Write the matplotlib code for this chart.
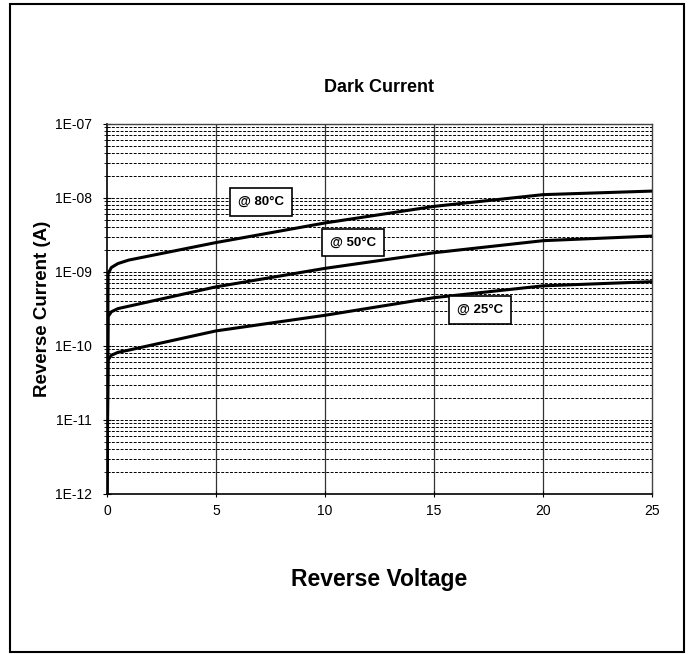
import matplotlib
matplotlib.use("Agg")
import matplotlib.pyplot as plt
from matplotlib.patches import Rectangle
from matplotlib.ticker import FixedLocator, FixedFormatter, NullFormatter
import numpy as np

plt.rcParams['font.family'] = ['Liberation Sans', 'DejaVu Sans']

# ---- data ----
voltage = [0, 0.05, 0.2, 0.5, 1, 5, 10, 15, 20, 25]
i_80c = [1e-12, 9.5e-10, 1.15e-9, 1.3e-9, 1.45e-9, 2.5e-9, 4.6e-9, 7.7e-9, 1.11e-8, 1.24e-8]
i_50c = [1e-12, 2.5e-10, 2.9e-10, 3.2e-10, 3.45e-10, 6.3e-10, 1.12e-9, 1.82e-9, 2.65e-9, 3.06e-9]
i_25c = [1e-12, 6.5e-11, 7.5e-11, 8.2e-11, 8.8e-11, 1.6e-10, 2.6e-10, 4.5e-10, 6.5e-10, 7.4e-10]

labels = ["@ 80\u00b0C", "@ 50\u00b0C", "@ 25\u00b0C"]
label_v = [7.06, 11.3, 17.1]
label_i = [8.8e-9, 2.5e-9, 3.1e-10]

y_ticks = [1e-12, 1e-11, 1e-10, 1e-9, 1e-8, 1e-7]
y_ticklabels = ["1E-12", "1E-11", "1E-10", "1E-09", "1E-08", "1E-07"]
x_ticks = [0, 5, 10, 15, 20, 25]
x_ticklabels = ["0", "5", "10", "15", "20", "25"]

title = "Dark Current"
xlabel = "Reverse Voltage"
ylabel = "Reverse Current (A)"

# ---- figure ----
W, H = 690, 654
fig = plt.figure(figsize=(W / 100, H / 100), dpi=100)
fig.patch.set_facecolor("white")

left, right, top, bottom = 107, 652, 124, 494
ax = fig.add_axes([left / W, 1 - bottom / H, (right - left) / W, (bottom - top) / H])

ax.set_yscale("log")
ax.set_xlim(0, 25)
ax.set_ylim(1e-12, 1e-7)

# grid lines
minor_vals = [m * 10.0 ** e for e in range(-12, -7) for m in range(2, 10)]
for v in minor_vals + y_ticks[1:-1]:
    ax.axhline(v, color="black", lw=0.7, ls=(0, (3, 1.5)), zorder=1)
for v in x_ticks[1:-1]:
    ax.axvline(v, color="#333333", lw=0.9, zorder=1)

for xs, ys in [(voltage, i_80c), (voltage, i_50c), (voltage, i_25c)]:
    ax.plot(xs, ys, color="black", lw=2.2, zorder=3, solid_joinstyle="round")

for txt, vx, vy in zip(labels, label_v, label_i):
    ax.text(vx, vy, txt, ha="center", va="center", fontsize=9.5, fontweight="bold",
            zorder=5,
            bbox=dict(boxstyle="square,pad=0.6", facecolor="white", edgecolor="black", lw=1.2))

ax.yaxis.set_major_locator(FixedLocator(y_ticks))
ax.yaxis.set_major_formatter(FixedFormatter(y_ticklabels))
ax.yaxis.set_minor_locator(FixedLocator(minor_vals))
ax.yaxis.set_minor_formatter(NullFormatter())
ax.xaxis.set_major_locator(FixedLocator(x_ticks))
ax.xaxis.set_major_formatter(FixedFormatter(x_ticklabels))

ax.tick_params(axis="y", which="major", direction="inout", length=6, width=0.8, labelsize=10, pad=8)
ax.tick_params(axis="y", which="minor", direction="inout", length=4, width=0.6)
ax.tick_params(axis="x", which="major", direction="inout", length=4, width=0.8, labelsize=10, pad=5)

for s in ["left", "bottom"]:
    ax.spines[s].set_linewidth(1.2)
for s in ["top", "right"]:
    ax.spines[s].set_linewidth(1.0)
    ax.spines[s].set_color("#444444")

ax.set_title(title, fontsize=13, fontweight="bold", pad=23)
ax.set_xlabel(xlabel, fontsize=16.5, fontweight="bold", labelpad=36)
ax.set_ylabel(ylabel, fontsize=13.5, fontweight="bold", labelpad=3)

# outer frame
fig.add_artist(Rectangle((10 / W, 2 / H), 674 / W, 648 / H, transform=fig.transFigure,
                         fill=False, edgecolor="black", lw=1.5))

fig.savefig("out.png", dpi=100, facecolor="white")
